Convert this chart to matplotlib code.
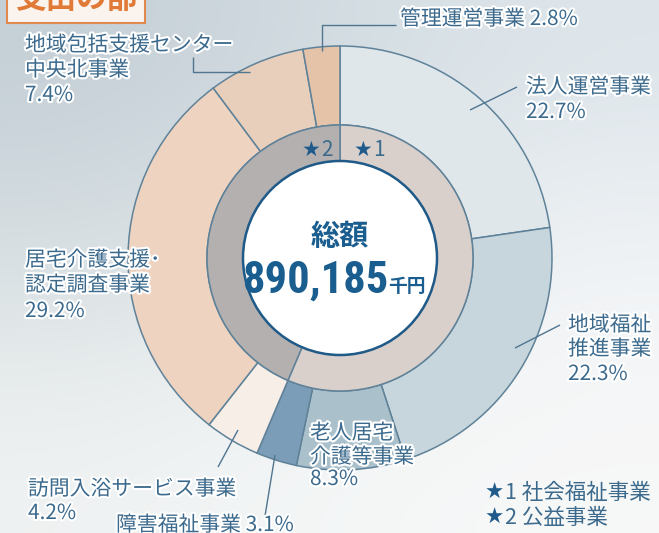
import numpy as np
import matplotlib.pyplot as plt
import matplotlib.patheffects as pe
from matplotlib.patches import Circle

plt.rcParams['font.family'] = ['Noto Sans CJK JP', 'DejaVu Sans']

# outer ring, clockwise from 12 o'clock
labels = ["法人運営事業", "地域福祉推進事業", "老人居宅介護等事業", "障害福祉事業",
          "訪問入浴サービス事業", "居宅介護支援・認定調査事業",
          "地域包括支援センター中央北事業", "管理運営事業"]
shares = [22.7, 22.3, 8.3, 3.1, 4.2, 29.2, 7.4, 2.8]
colors = ["#dfe7eb", "#c6d6dc", "#aac0cb", "#7c9db7",
          "#f7eee8", "#edd3c0", "#e8cfbb", "#e4c3a9"]

# inner ring: ★1 社会福祉事業 = first four, ★2 公益事業 = rest
inner_names = ["★1", "★2"]
inner_shares = [sum(shares[:4]), sum(shares[4:])]
inner_colors = ["#d9cfcb", "#b4b0b0"]

total = "890,185"

W, H = 659, 533
cx, cy = 340, 258
fig = plt.figure(figsize=(W / 100, H / 100), dpi=100)
ax = fig.add_axes([0, 0, 1, 1])

edge = "#5f8299"
ax.pie(shares, radius=212, center=(cx, cy), colors=colors, startangle=-90,
       counterclock=True, wedgeprops=dict(width=79, edgecolor=edge, linewidth=1.1))
ax.pie(inner_shares, radius=133, center=(cx, cy), colors=inner_colors, startangle=-90,
       counterclock=True, wedgeprops=dict(width=36, edgecolor=edge, linewidth=1.1))
ax.add_patch(Circle((cx, cy), 97, fc="white", ec="#1f5a88", lw=1.8, zorder=3))

ax.set_xlim(0, W)
ax.set_ylim(H, 0)
ax.set_aspect("equal")
ax.axis("off")

# background wash
bg = np.array([[[0.77, 0.81, 0.84], [0.82, 0.86, 0.88], [0.87, 0.90, 0.92]],
               [[0.85, 0.88, 0.89], [0.90, 0.92, 0.93], [0.95, 0.96, 0.97]],
               [[0.94, 0.95, 0.95], [0.96, 0.97, 0.97], [0.97, 0.97, 0.97]]])
ax.imshow(bg, extent=(0, W, H, 0), interpolation="bicubic", zorder=-5, aspect="auto")

tc = "#3c6a8d"
halo = [pe.withStroke(linewidth=3, foreground="white")]
kw = dict(color=tc, fontsize=15, va="center", ha="left", path_effects=halo, zorder=5)

def lines(x, ys, texts):
    for y, t in zip(ys, texts):
        ax.text(x, y, t, **kw)

lc = "#4f7591"
def leader(xs, ys):
    ax.plot(xs, ys, color=lc, lw=1, zorder=4, solid_capstyle="butt")

# labels
lines(400, [19], [labels[7] + " " + f"{shares[7]}%"])
leader([322, 322, 396], [51, 25, 25])

lines(25, [45, 70, 95], ["地域包括支援センター", "中央北事業", f"{shares[6]}%"])
leader([193, 193, 250], [57, 72, 72])

lines(526, [87, 112], [labels[0], f"{shares[0]}%"])
leader([470, 517], [110, 87])

lines(568, [325, 349, 374], ["地域福祉", "推進事業", f"{shares[1]}%"])
leader([515, 560], [348, 325])

lines(310, [433, 457, 479], ["老人居宅", "介護等事業", f"{shares[2]}%"])

lines(25, [260, 285, 311], ["居宅介護支援･", "認定調査事業", f"{shares[5]}%"])

lines(28, [489, 513], ["訪問入浴サービス事業", f"{shares[4]}%"])
leader([238, 218], [430, 467])

lines(116, [525], [labels[3] + " " + f"{shares[3]}%"])
leader([275, 265], [455, 516])

# inner ring tags
star = "#1f5a8a"
for x0, n in [(302, "2"), (354, "1")]:
    ax.text(x0, 150, "★", color=star, fontsize=15, va="center", ha="left", zorder=5,
            family=["DejaVu Sans"])
    ax.text(x0 + 19, 150, n, color=tc, fontsize=15, va="center", ha="left", zorder=5)

# legend
for y0, t in [(493, "1 社会福祉事業"), (518, "2 公益事業")]:
    ax.text(485, y0, "★", color=star, fontsize=15.5, va="center", ha="left", zorder=5,
            family=["DejaVu Sans"])
    ax.text(505, y0, t, color=tc, fontsize=15.5, va="center", ha="left", zorder=5)

# centre
cc = "#1a5d8f"
ax.text(cx, 236, "総額", color=cc, fontsize=21, fontweight="bold", ha="center",
        va="center", zorder=5)
ax.text(389, 281, total, color=cc, fontsize=32, fontweight="bold", ha="right",
        va="center", zorder=5, family=["Roboto Condensed", "DejaVu Sans"])
ax.text(388, 287, "千円", color=cc, fontsize=13.5, fontweight="bold", ha="left",
        va="center", zorder=5)

# title tab, cut at the top edge
ax.text(76, -1, "支出の部", color="#e07a36", fontsize=22, fontweight="bold",
        ha="center", va="center", zorder=6,
        bbox=dict(boxstyle="square,pad=0.25", fc="#fbf4ee", ec="#e08a50", lw=1.5))

fig.savefig("out.png", dpi=100)
